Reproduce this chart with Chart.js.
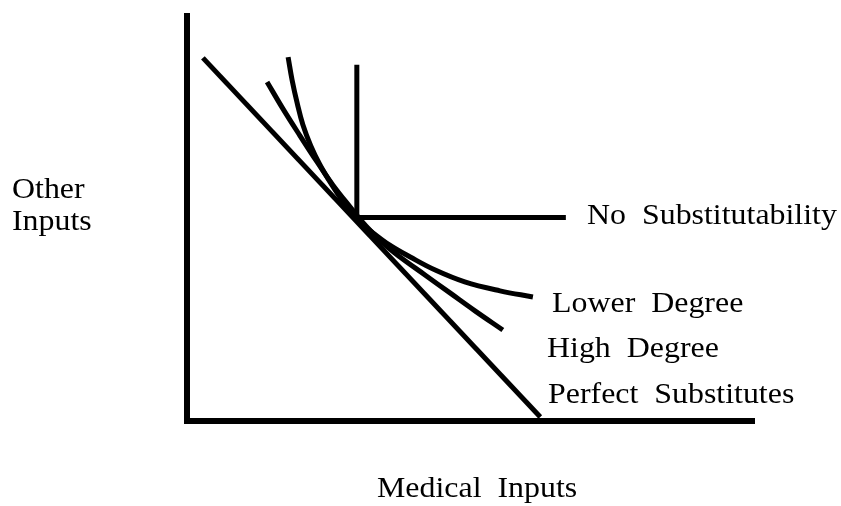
<!DOCTYPE html>
<html>
<head>
<meta charset="utf-8">
<script src="https://cdn.jsdelivr.net/npm/chart.js@4.4.1/dist/chart.umd.min.js"></script>
<style>
  body { margin: 0; background: #fff; }
  canvas { display: block; }
</style>
</head>
<body>
<canvas id="grafica" width="841" height="506"></canvas>
<script>
// isoquants, axes 0..100 on both sides
let ejes = [[0, 100], [0, 0], [100, 0]];
let perfectos = [[2.8, 89.0], [62.2, 1.0]];
let sinSustitucion = [[29.9, 87.3], [29.9, 49.9], [66.7, 49.9]];
let altoX = [14.1, 16.9, 19.9, 22.9, 25.7, 28.7, 31.5, 34.5, 37.5, 41.9, 46.3, 50.7, 55.6];
let altoY = [83.1, 76.5, 69.9, 63.5, 57.8, 52.5, 47.8, 43.6, 40.2, 35.8, 31.4, 27.0, 22.3];
let bajoX = [17.8, 18.5, 19.4, 20.4, 21.8, 23.4, 25.4, 27.5, 29.9, 32.6, 35.7, 39.3, 43.7, 48.9, 55.1, 60.9];
let bajoY = [89.2, 83.6, 77.9, 72.6, 67.4, 62.8, 58.1, 53.7, 49.5, 46.3, 43.1, 40.2, 37.0, 34.1, 31.9, 30.4];
let etiquetas = ['No  Substitutability', 'Lower  Degree', 'High  Degree', 'Perfect  Substitutes'];
let ejeX = 'Medical  Inputs';
let ejeY = ['Other', 'Inputs'];

function puntos(xs, ys){
  return xs.map((x, i) => ({x: x, y: ys[i]}));
}
function pares(arr){
  return arr.map(p => ({x: p[0], y: p[1]}));
}
function linea(data, ancho, suave){
  return {
    data: data,
    showLine: true,
    borderColor: '#000',
    borderWidth: ancho,
    pointRadius: 0,
    borderCapStyle: 'butt',
    borderJoinStyle: 'miter',
    tension: suave ? 0.4 : 0,
    clip: false
  };
}

const fuente = '29px "Liberation Serif"';
function texto(ctx, t, x, y){
  ctx.save();
  ctx.translate(x, y);
  ctx.scale(1.1, 1);
  ctx.fillText(t, 0, 0);
  ctx.restore();
}

const textos = {
  id: 'textos',
  afterDraw(chart){
    let ctx = chart.ctx;
    ctx.save();
    ctx.fillStyle = '#000';
    ctx.font = fuente;
    ctx.textBaseline = 'alphabetic';
    ctx.textAlign = 'left';
    texto(ctx, etiquetas[0], 587, 224);
    texto(ctx, etiquetas[1], 552, 312);
    texto(ctx, etiquetas[2], 547, 357);
    texto(ctx, etiquetas[3], 548, 403);
    texto(ctx, ejeY[0], 12, 198);
    texto(ctx, ejeY[1], 12, 230);
    texto(ctx, ejeX, 377, 497);
    ctx.restore();
  }
};

new Chart(document.getElementById('grafica').getContext('2d'), {
  type: 'scatter',
  data: {
    datasets: [
      linea(pares(ejes), 6, false),
      linea(pares(perfectos), 5, false),
      linea(pares(sinSustitucion), 5, false),
      linea(puntos(altoX, altoY), 5, true),
      linea(puntos(bajoX, bajoY), 5, true)
    ]
  },
  options: {
    responsive: false,
    animation: false,
    layout: { padding: { left: 187, right: 86, top: 13, bottom: 85 } },
    plugins: { legend: { display: false }, tooltip: { enabled: false } },
    scales: {
      x: { type: 'linear', min: 0, max: 100, display: false },
      y: { type: 'linear', min: 0, max: 100, display: false }
    }
  },
  plugins: [textos]
});
</script>
</body>
</html>
